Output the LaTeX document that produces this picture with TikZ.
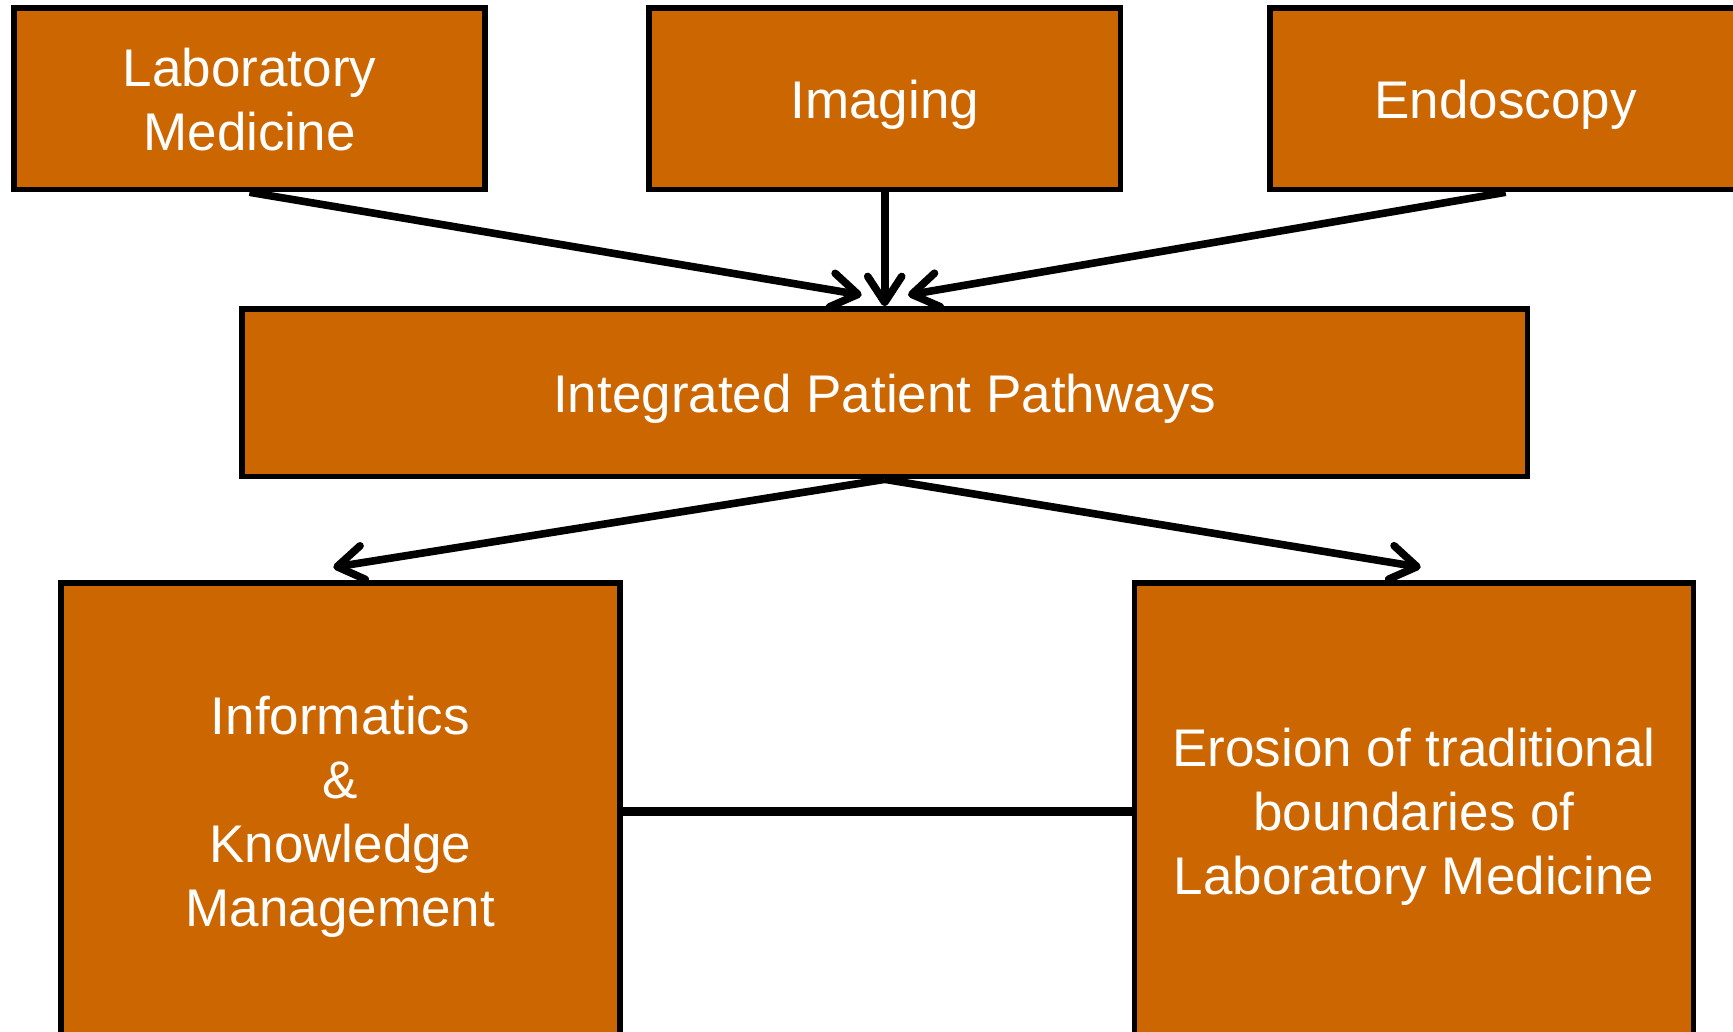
\documentclass[tikz,border=0pt]{standalone}
\usepackage{fontspec}
\setmainfont{Liberation Sans}
\usetikzlibrary{arrows.meta}
\definecolor{boxorange}{RGB}{204,102,0}

\tikzset{
  box/.style={draw=black, line width=2.8pt, fill=boxorange, text=white,
    align=center, inner sep=0pt, text depth=0pt, font=\fontsize{26.5}{32}\selectfont},
  topbox/.style={box, minimum width=235.75pt, minimum height=90.6pt},
  lowbox/.style={box, minimum width=279.6pt, minimum height=228.4pt},
  flow/.style={line width=3.8pt, -{Straight Barb[length=13pt,width=17pt,round]}},
  link/.style={line width=4.3pt}
}

\begin{document}
\begin{tikzpicture}[x=0.5pt,y=-0.5pt]
    \useasboundingbox (0,0) rectangle (1733,1032);
    % top row
    \node[topbox] (lab)  at ( 249.5, 98.9) {Laboratory\\Medicine};
    \node[topbox] (img)  at ( 884.7, 98.9) {Imaging};
    \node[topbox] (endo) at (1505.6, 98.9) {Endoscopy};
    % middle
    \node[box, minimum width=642.6pt, minimum height=83.75pt] (ipp) at (884.7,392.8) {Integrated Patient Pathways};
    % bottom row
    \node[lowbox] (inf) at ( 340.4,811.6) {Informatics\\\&\\Knowledge\\Management};
    \node[lowbox] (ero) at (1414.0,811.6) {Erosion of traditional\\boundaries of\\Laboratory Medicine};
    % arrow ends
    \coordinate (labtip)  at ( 861.7,295.0);
    \coordinate (endotip) at ( 908.0,295.0);
    \coordinate (inftip)  at ( 333.3,567.3);
    \coordinate (erotip)  at (1420.7,567.3);
    % arrows
    \draw[flow] (lab.south)  -- (labtip);
    \draw[flow] (img.south)  -- (ipp.north);
    \draw[flow] (endo.south) -- (endotip);
    \draw[flow] (ipp.south)  -- (inftip);
    \draw[flow] (ipp.south)  -- (erotip);
    \draw[link] (inf.east) -- (ero.west);
\end{tikzpicture}
\end{document}
